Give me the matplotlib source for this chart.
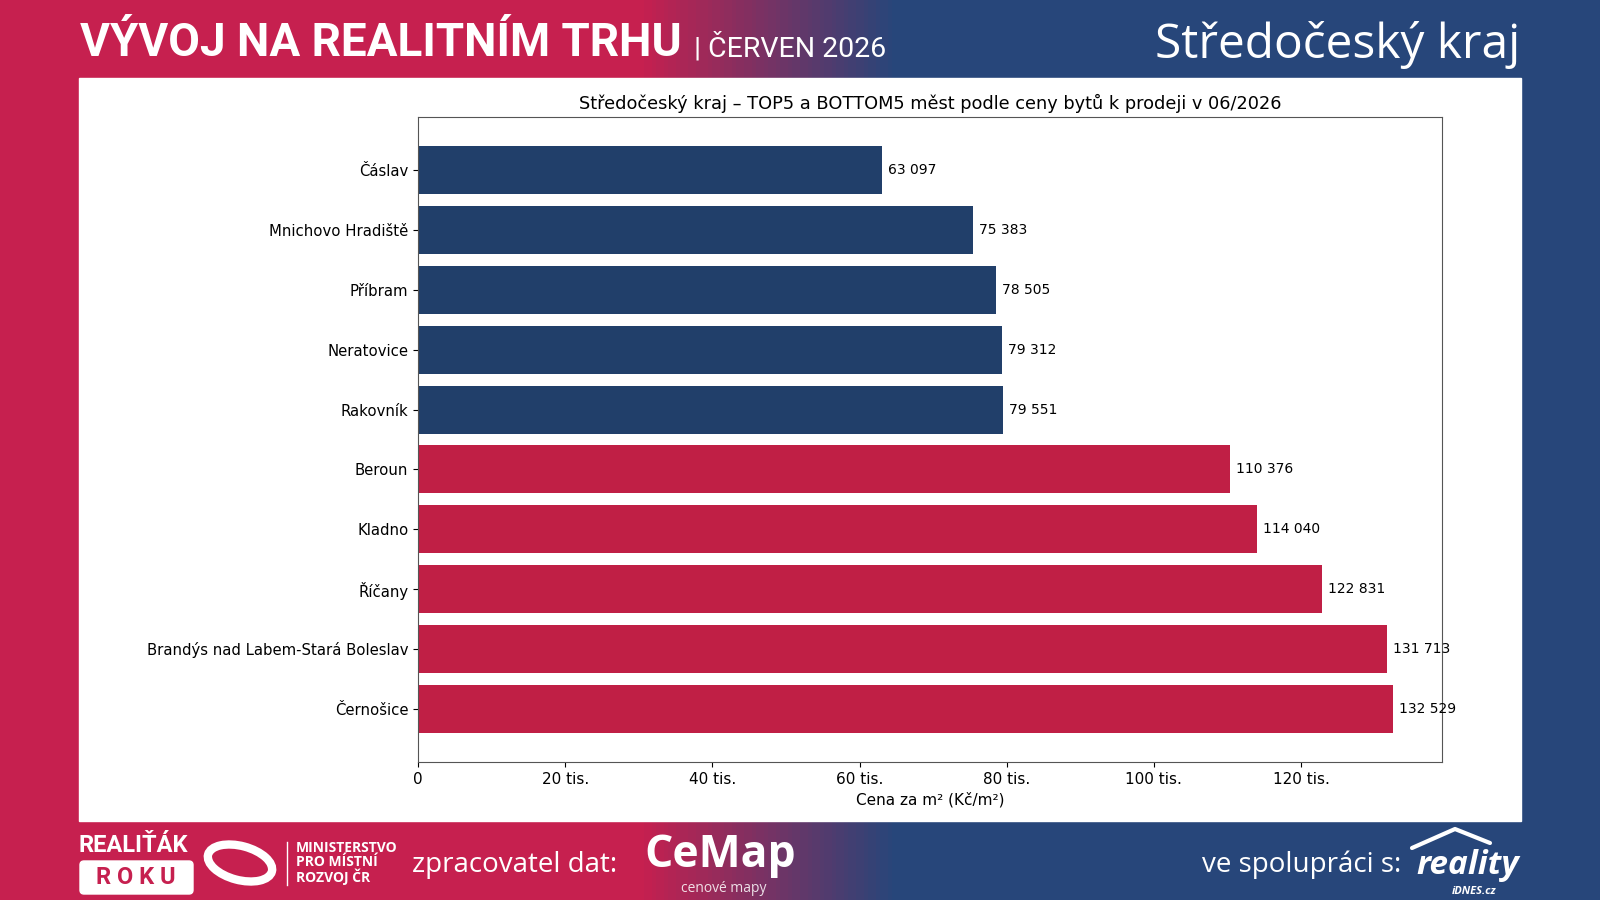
import numpy as np
import matplotlib

matplotlib.use("Agg")
import matplotlib.pyplot as plt  # noqa: E402
from matplotlib.colors import LinearSegmentedColormap  # noqa: E402
from matplotlib.patches import Rectangle, FancyBboxPatch, Ellipse  # noqa: E402
from matplotlib.ticker import FuncFormatter  # noqa: E402

# data (top of chart first)
CITIES = ["Čáslav", "Mnichovo Hradiště", "Příbram", "Neratovice", "Rakovník",
          "Beroun", "Kladno", "Říčany", "Brandýs nad Labem-Stará Boleslav", "Černošice"]
PRICES = [63097, 75383, 78505, 79312, 79551, 110376, 114040, 122831, 131713, 132529]
GROUP = ["bottom"] * 5 + ["top"] * 5

CRIMSON = "#c6204f"
NAVY = "#27467a"
BAR_COL = {"bottom": "#213f6a", "top": "#c01f45"}

W, H = 1600, 900
fig = plt.figure(figsize=(16, 9), dpi=100)


def fx(px):
    return px / W


def fy(py):
    return 1 - py / H


# background: crimson -> navy gradient band
bg = fig.add_axes([0, 0, 1, 1])
bg.set_xlim(0, W)
bg.set_ylim(H, 0)
bg.axis("off")
cmap = LinearSegmentedColormap.from_list(
    "band", [(0, CRIMSON), (0.40, CRIMSON), (0.56, NAVY), (1, NAVY)])
bg.imshow(np.linspace(0, 1, 400)[None, :], cmap=cmap, aspect="auto",
          extent=(0, W, H, 0), zorder=0)
bg.add_patch(Rectangle((79, 78), 1442, 743, color="white", zorder=1))

# header
bg.text(80, 43, "VÝVOJ NA REALITNÍM TRHU", color="white", fontsize=33,
        fontweight="bold", family="Roboto", va="center", ha="left", zorder=2)
bg.text(694, 48, "| ČERVEN 2026", color="white", fontsize=20.5, family="Roboto",
        va="center", ha="left", zorder=2)
bg.text(1520, 45, "Středočeský kraj", color="white", fontsize=34.5,
        family="Open Sans", va="center", ha="right", zorder=2)

# footer
bg.text(79, 845, "REALIŤÁK", color="white", fontsize=17, fontweight="bold",
        family="Roboto", va="center", ha="left", zorder=2)
bg.add_patch(FancyBboxPatch((80, 861), 113, 33, boxstyle="round,pad=0,rounding_size=4",
                            color="white", zorder=2))
bg.text(136, 878, "R O K U", color=CRIMSON, fontsize=17, fontweight="bold",
        family="Roboto", va="center", ha="center", zorder=3)
bg.add_patch(Ellipse((240, 863), 66, 34, angle=15, fill=False, ec="white", lw=6, zorder=2))
bg.add_patch(Ellipse((244, 863), 36, 16, angle=15, color=CRIMSON, zorder=3))
bg.plot([287, 287], [842, 885], color="white", lw=1, zorder=2)
bg.text(296, 863, "MINISTERSTVO\nPRO MÍSTNÍ\nROZVOJ ČR", color="white", fontsize=10,
        fontweight="bold", family="Open Sans", va="center", ha="left",
        linespacing=1.0, zorder=2)
bg.text(412, 865, "zpracovatel dat:", color="white", fontsize=20, family="Open Sans",
        va="center", ha="left", zorder=2)
bg.text(644, 855, "CeMap", color="white", fontsize=32, fontweight="bold",
        family="Open Sans", va="center", ha="left", zorder=2)
bg.text(724, 888, "cenové mapy", color="white", fontsize=10, family="Open Sans",
        va="center", ha="center", alpha=0.85, zorder=2)
bg.text(1202, 865, "ve spolupráci s:", color="white", fontsize=20, family="Open Sans",
        va="center", ha="left", zorder=2)
bg.text(1416, 866, "reality", color="white", fontsize=24, fontweight="bold",
        style="italic", family="Open Sans", va="center", ha="left", zorder=2)
bg.text(1496, 892, "iDNES.cz", color="white", fontsize=8, fontweight="bold",
        style="italic", family="Open Sans", va="center", ha="right", zorder=2)
bg.plot([1412, 1455, 1490], [848, 829, 843], color="white", lw=3,
        solid_capstyle="round", zorder=2)

# main chart
ax = fig.add_axes([fx(418), fy(762), fx(1442) - fx(418), fy(117) - fy(762)])
y = np.arange(len(CITIES))
bars = ax.barh(y, PRICES, height=0.8, color=[BAR_COL[g] for g in GROUP])
ax.set_yticks(y)
ax.set_yticklabels(CITIES, fontsize=10.7)
ax.invert_yaxis()
ax.set_xlim(0, max(PRICES) * 1.05)
ax.xaxis.set_major_formatter(FuncFormatter(
    lambda v, _: "0" if v == 0 else f"{v / 1000:.0f} tis."))
ax.tick_params(axis="x", labelsize=11)
ax.set_xlabel("Cena za m² (Kč/m²)", fontsize=11)
ax.set_title("Středočeský kraj – TOP5 a BOTTOM5 měst podle ceny bytů k prodeji v 06/2026",
             fontsize=12.8, pad=6)
for b, v in zip(bars, PRICES):
    ax.text(b.get_width() + 800, b.get_y() + b.get_height() / 2,
            f"{v:,}".replace(",", " "), va="center", ha="left", fontsize=10)
for s in ax.spines.values():
    s.set_color("#555555")

fig.savefig("out.png", dpi=100)
